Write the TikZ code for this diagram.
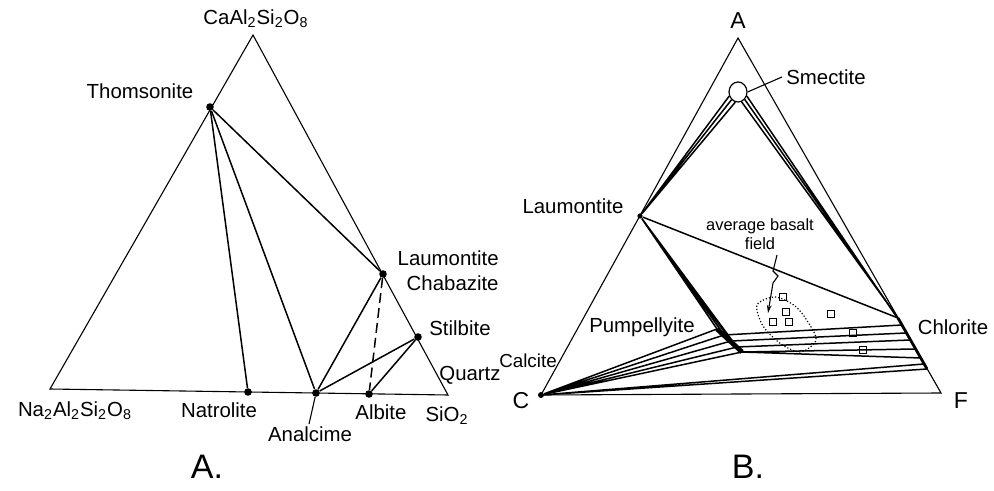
\documentclass[tikz,border=0pt]{standalone}
\usepackage{fontspec}
\setmainfont{Liberation Sans}
\usetikzlibrary{arrows.meta,shapes.geometric}

\begin{document}
\begin{tikzpicture}[x=0.5pt,y=-0.5pt,
  side/.style={line width=0.55pt},
  tie/.style={line width=0.75pt},
  phase/.style={circle,fill,inner sep=0pt,minimum size=3.8pt},
  lbl/.style={font=\fontsize{10.2}{12.5}\selectfont,inner sep=0pt},
  corner/.style={font=\fontsize{11.5}{13}\selectfont,inner sep=0pt},
  panel/.style={font=\fontsize{17}{19}\selectfont,inner sep=0pt},
  sample/.style={draw,line width=0.5pt,inner sep=0pt,minimum size=3.6pt}]
  \useasboundingbox (0,0) rectangle (994,491);

  % A.
  \coordinate (ca) at (253,35);
  \coordinate (na) at (50,389);
  \coordinate (si) at (448,395);
  \draw[side] (ca) -- (na) -- (si) -- cycle;
  \node[phase] (thom) at (210,107) {};
  \node[phase] (natr) at (248,392) {};
  \node[phase] (anal) at (316,393) {};
  \node[phase] (albi) at (369,394) {};
  \node[phase] (laum) at (383,274) {};
  \node[phase] (stil) at (418,337) {};
  \draw[tie] (thom) -- (natr);
  \draw[tie] (thom) -- (anal);
  \draw[tie] (thom) -- (laum);
  \draw[tie] (laum) -- (anal);
  \draw[tie] (stil) -- (anal);
  \draw[tie] (stil) -- (albi);
  \draw[tie,dashed,dash pattern=on 5pt off 2.5pt] (laum) -- (albi);
  \node[lbl] (caLbl) at (256,19) {CaAl\textsubscript{2}Si\textsubscript{2}O\textsubscript{8}};
  \node[lbl] (thomLbl) at (140,91) {Thomsonite};
  \node[lbl,align=right,anchor=east] (laumLbl) at (499,271) {Laumontite\\Chabazite};
  \node[lbl] (stilLbl) at (460,328) {Stilbite};
  \node[lbl] (qtzLbl) at (470,375) {Quartz};
  \node[lbl] (naLbl) at (75,411) {Na\textsubscript{2}Al\textsubscript{2}Si\textsubscript{2}O\textsubscript{8}};
  \node[lbl] (natrLbl) at (219,410) {Natrolite};
  \node[lbl] (albiLbl) at (381,412) {Albite};
  \node[lbl] (siLbl) at (447,416) {SiO\textsubscript{2}};
  \node[lbl] (analLbl) at (310,434) {Analcime};
  \draw[side] (anal) -- ([xshift=-0.5pt,yshift=1pt]analLbl.north);
  \node[panel] (panelA) at (207,467) {A.};

  % B.
  \coordinate (pA) at (738,38);
  \coordinate (pF) at (941,393);
  \node[phase,minimum size=3pt] (pC) at (541,395) {};
  \draw[side] (pA) -- (pC.center) -- (pF) -- cycle;
  \node[ellipse,draw,line width=0.6pt,fill=white,inner sep=0pt,minimum width=9pt,minimum height=10pt] (smec) at (738,92) {};
  \node[phase,minimum size=2.6pt] (lmt) at (640,216) {};
  \coordinate (pu1) at (717,329);
  \coordinate (pu2) at (724,335);
  \coordinate (pu3) at (731,341);
  \coordinate (pu4) at (737,347);
  \coordinate (pu5) at (742,352);
  \coordinate (ch1) at (898,318);
  \coordinate (ch2) at (902,325);
  \coordinate (ch3) at (906,333);
  \coordinate (ch4) at (910,340);
  \coordinate (ch5) at (915,349);
  \coordinate (ch6) at (921,358);
  \coordinate (ch7) at (924,364);
  \coordinate (ch8) at (927,369);
  \draw[line width=2.4pt] (pu1) -- (pu5);
  \draw[line width=1.4pt] (ch1) -- (ch8);
  \draw[tie] (smec.205) -- (lmt) (smec.230) -- (lmt) (smec.255) -- (lmt);
  \draw[tie] (smec.290) -- (ch1) (smec.312) -- (ch1) (smec.335) -- (ch2);
  \draw[tie] (lmt) -- (ch1);
  \draw[tie] (lmt) -- (pu1) (lmt) -- (pu2) (lmt) -- (pu3) (lmt) -- (pu4);
  \draw[tie] (pC) -- (pu1) (pC) -- (pu2) (pC) -- (pu3) (pC) -- (pu4) (pC) -- (pu5);
  \draw[tie] (pu2) -- (ch2) (pu3) -- (ch3) (pu4) -- (ch4) (pu5) -- (ch5) (pu5) -- (ch6);
  \draw[tie] (pC) -- (ch7) (pC) -- (ch8);
  \draw[densely dotted,line width=0.6pt] plot[smooth cycle] coordinates
    {(757,305) (775,297) (795,306) (808,322) (816,340) (801,352) (781,344) (763,326)};
  \node[sample] (s1) at (783,297) {};
  \node[sample] (s2) at (786,312) {};
  \node[sample] (s3) at (773,322) {};
  \node[sample] (s4) at (789,322) {};
  \node[sample] (s5) at (831,314) {};
  \node[sample] (s6) at (853,333) {};
  \node[sample] (s7) at (863,350) {};
  \node[font=\fontsize{8.2}{9.5}\selectfont,align=center,inner sep=0pt] (fld) at (760,234) {average basalt\\field};
  \coordinate (zz) at (777,255);
  \coordinate (ztip) at (768,313);
  \draw[side,-{Stealth[length=4pt,width=2.4pt]}] (zz) -- (773,271) -- (778,276) -- (773,283) -- (ztip);
  \node[lbl] (smecLbl) at (826,77) {Smectite};
  \draw[side] (smec.east) -- ([xshift=-2pt]smecLbl.west);
  \node[corner] (aLbl) at (738,21) {A};
  \node[corner] (cLbl) at (521,401) {C};
  \node[corner] (fLbl) at (961,401) {F};
  \node[lbl] (lmtLbl) at (573,206) {Laumontite};
  \node[lbl] (puLbl) at (642,327) {Pumpellyite};
  \node[lbl] (chLbl) at (953,327) {Chlorite};
  \node[lbl,font=\fontsize{9.4}{11}\selectfont] (ccLbl) at (528,361) {Calcite};
  \node[panel] (panelB) at (748,467) {B.};
\end{tikzpicture}
\end{document}
